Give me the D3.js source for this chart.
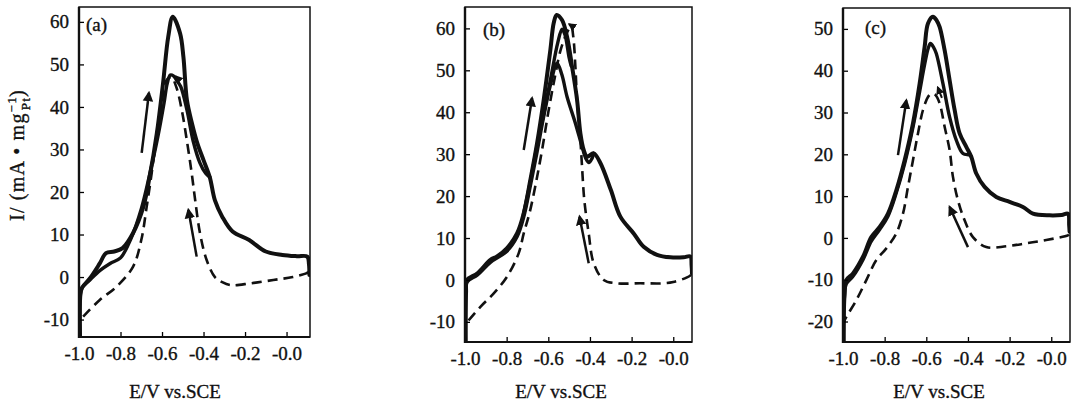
<!DOCTYPE html>
<html>
<head>
<meta charset="utf-8">
<script src="https://cdn.jsdelivr.net/npm/d3@7"></script>
<style>
  body { margin: 0; background: #fff; }
  svg { display: block; }
  text { font-family: "Liberation Serif", "DejaVu Serif", serif; fill: #111; stroke: #111; stroke-width: 0.35px; }
</style>
</head>
<body>
<script>
// potential (V vs. SCE), current density (mA per mg Pt)
const xTicks = [-1.0, -0.8, -0.6, -0.4, -0.2, 0.0];
const xTickLabels = ["-1.0", "-0.8", "-0.6", "-0.4", "-0.2", "-0.0"];
const abYTicks = [-10, 0, 10, 20, 30, 40, 50, 60];
const cYTicks = [-20, -10, 0, 10, 20, 30, 40, 50];

// panel (a)
const aOuter = [[-0.995,-14],[-0.993,-4],[-0.985,-2.5],[-0.947,-0.3],[-0.9,3.2],[-0.87,5.6],[-0.83,6],[-0.79,6.8],[-0.74,10.3],[-0.69,16.5],[-0.66,23.5],[-0.625,33.8],[-0.595,45.6],[-0.57,56.5],[-0.548,61.2],[-0.513,57.3],[-0.497,51.8],[-0.48,41.6],[-0.455,36],[-0.43,31.5],[-0.40,27.5],[-0.37,23.5],[-0.345,18],[-0.31,14.2],[-0.26,10.7],[-0.18,8.7],[-0.1,6],[-0.02,5.2],[0.05,4.9],[0.1,4.8],[0.108,3],[0.11,0.5]];
const aInner = [[-0.995,-14],[-0.993,-4],[-0.985,-2.5],[-0.95,-0.8],[-0.9,1.5],[-0.85,3.2],[-0.8,4.5],[-0.75,9],[-0.7,16],[-0.66,24],[-0.62,33],[-0.59,41],[-0.575,45.5],[-0.56,47.5],[-0.545,47.3],[-0.53,46.3],[-0.51,44.8],[-0.48,39.3],[-0.45,32],[-0.417,26.8],[-0.39,24.4],[-0.37,23.5]];
const aDashed = [[0.105,1.2],[0.097,0.9],[0.03,0],[-0.064,-0.7],[-0.176,-1.5],[-0.27,-1.9],[-0.31,-1.2],[-0.345,0],[-0.385,4],[-0.417,10.3],[-0.44,18],[-0.457,24.4],[-0.48,32],[-0.505,39.3],[-0.53,44.5],[-0.555,47],[-0.577,46.4],[-0.6,41.6],[-0.625,33.8],[-0.65,24.4],[-0.674,16.5],[-0.70,8.7],[-0.74,2.4],[-0.82,-2.3],[-0.9,-5.4],[-0.98,-9.3],[-0.993,-10]];
const aArrows = [[-0.698,29.2,-0.663,43.3],[-0.433,4.8,-0.473,15.8]];
const aDashHeads = [[-0.515,46.2,-0.535,47.2]];

// panel (b)
const bOuter = [[-0.997,-14.7],[-0.995,-3],[-0.99,0],[-0.94,1.6],[-0.878,4.8],[-0.846,5.6],[-0.798,7.6],[-0.75,11.1],[-0.718,15.9],[-0.686,23.9],[-0.654,32.6],[-0.622,43],[-0.59,54.9],[-0.574,61.3],[-0.56,63.2],[-0.534,62],[-0.51,58],[-0.486,50.9],[-0.462,43],[-0.446,35],[-0.43,31],[-0.414,29.4],[-0.382,30.2],[-0.35,27.9],[-0.30,21.5],[-0.254,15.1],[-0.19,11.1],[-0.142,7.9],[-0.078,6],[-0.014,5.4],[0.05,5.4],[0.082,5.6],[0.088,3.5],[0.09,1.5]];
const bMiddle = [[-0.72,15.5],[-0.686,23.5],[-0.656,31.5],[-0.62,40],[-0.585,49],[-0.555,56.5],[-0.534,59.8],[-0.52,58.5],[-0.5,53],[-0.49,51]];
const bInner = [[-0.997,-14.7],[-0.995,-3],[-0.99,-0.5],[-0.94,1.2],[-0.878,4.2],[-0.8,6.8],[-0.75,10.3],[-0.718,15],[-0.686,22.5],[-0.654,30.5],[-0.622,39],[-0.59,46.5],[-0.558,51.7],[-0.535,49],[-0.51,43.7],[-0.47,37.4],[-0.438,31.8],[-0.42,29],[-0.405,28],[-0.39,29],[-0.382,30.2]];
const bDashed = [[0.085,1.2],[0.066,0.6],[0.0,-0.5],[-0.046,-0.8],[-0.158,-0.8],[-0.27,-0.8],[-0.334,0],[-0.382,4],[-0.406,11.1],[-0.427,19],[-0.438,27],[-0.446,33.4],[-0.462,43],[-0.47,50.9],[-0.48,58],[-0.49,60.5],[-0.51,59],[-0.54,55],[-0.57,48],[-0.6,40],[-0.63,31],[-0.66,23],[-0.69,16],[-0.718,11.1],[-0.742,6.4],[-0.798,0.8],[-0.862,-3.2],[-0.926,-6.4],[-0.98,-9.5],[-0.995,-10.5]];
const bArrows = [[-0.718,31,-0.678,43.4],[-0.406,4,-0.45,15.1]];
const bDashHeads = [[-0.475,60.2,-0.5,61]];

// panel (c)
const cOuter = [[-0.997,-24.9],[-0.993,-14],[-0.984,-10.1],[-0.952,-8.5],[-0.904,-4.5],[-0.864,0.2],[-0.824,2.6],[-0.784,5.8],[-0.744,11.4],[-0.704,18.6],[-0.664,27.4],[-0.632,36.9],[-0.608,45.7],[-0.592,51.3],[-0.568,52.9],[-0.55,52],[-0.536,50.5],[-0.512,44.9],[-0.488,37.7],[-0.464,30.6],[-0.44,25],[-0.408,21.8],[-0.384,19.4],[-0.36,15.4],[-0.32,12.2],[-0.264,9.8],[-0.2,8.6],[-0.136,7.4],[-0.088,5.8],[-0.008,5.4],[0.05,5.5],[0.08,5.8],[0.086,3],[0.088,1.5]];
const cInner = [[-0.997,-24.9],[-0.993,-14],[-0.984,-11],[-0.952,-9.2],[-0.904,-5.2],[-0.864,-0.8],[-0.824,2],[-0.784,5.2],[-0.744,10.8],[-0.704,17.8],[-0.664,26.5],[-0.632,35],[-0.608,41.5],[-0.59,45.5],[-0.58,46.5],[-0.565,45.6],[-0.552,44.1],[-0.52,36.9],[-0.488,28.9],[-0.456,23.4],[-0.424,20.2],[-0.392,19.8],[-0.384,19.4]];
const cDashed = [[0.085,0.8],[0.08,0.6],[-0.024,-0.5],[-0.12,-1.3],[-0.216,-2],[-0.312,-2.2],[-0.376,0.2],[-0.416,4.2],[-0.448,9],[-0.472,14.6],[-0.488,21],[-0.512,26.6],[-0.536,32.2],[-0.556,34.2],[-0.576,34.5],[-0.592,33.7],[-0.616,30.6],[-0.64,25],[-0.664,18.6],[-0.688,12.2],[-0.712,5.8],[-0.744,1.1],[-0.792,-2.5],[-0.84,-5.3],[-0.888,-10.1],[-0.936,-14.9],[-0.984,-18.9],[-0.995,-20]];
const cArrows = [[-0.736,19.8,-0.696,32.9],[-0.4,-2.2,-0.488,7.4]];
const cDashHeads = [[-0.525,33.5,-0.545,36]];

const panels = [
  {name: "(a)", solids: [aOuter, aInner], dashed: aDashed, arrows: aArrows, heads: aDashHeads, yTicks: abYTicks,
   xDomain: [-1.0, 0.113], yDomain: [-14.1, 63.5], box: {l: 79, r: 310, t: 7, b: 337}, tag: [86, 31]},
  {name: "(b)", solids: [bOuter, bMiddle, bInner], dashed: bDashed, arrows: bArrows, heads: bDashHeads, yTicks: abYTicks,
   xDomain: [-1.0, 0.09], yDomain: [-14.8, 65.1], box: {l: 465, r: 692, t: 7, b: 342}, tag: [483, 36]},
  {name: "(c)", solids: [cOuter, cInner], dashed: cDashed, arrows: cArrows, heads: cDashHeads, yTicks: cYTicks,
   xDomain: [-1.0, 0.09], yDomain: [-24.9, 55], box: {l: 843, r: 1070, t: 8, b: 342}, tag: [865, 34]}
];

const svg = d3.select("body").append("svg").attr("width", 1076).attr("height", 405);

svg.append("defs").append("marker")
    .attr("id", "head")
    .attr("viewBox", "0 0 10 10")
    .attr("refX", 8).attr("refY", 5)
    .attr("markerWidth", 4.2).attr("markerHeight", 4.6)
    .attr("markerUnits", "strokeWidth")
    .attr("orient", "auto")
  .append("path").attr("d", "M0,0L10,5L0,10z").attr("fill", "#111");

panels.forEach((p, i) => {
    let b = p.box;
    let x = d3.scaleLinear().domain(p.xDomain).range([b.l, b.r]);
    let y = d3.scaleLinear().domain(p.yDomain).range([b.b, b.t]);

    let clipId = `clip${i}`;
    svg.append("clipPath").attr("id", clipId)
      .append("rect").attr("x", b.l).attr("y", b.t).attr("width", b.r - b.l).attr("height", b.b - b.t);

    let line = d3.line()
        .x((d) => x(d[0]))
        .y((d) => y(d[1]))
        .curve(d3.curveCatmullRom.alpha(0.5));

    let g = svg.append("g").attr("clip-path", `url(#${clipId})`);

    g.append("path").attr("d", line(p.dashed))
        .attr("fill", "none").attr("stroke", "#111")
        .attr("stroke-width", 2.6).attr("stroke-dasharray", "10,6");

    p.solids.forEach((s, k) => {
        g.append("path").attr("d", line(s))
            .attr("fill", "none").attr("stroke", "#111")
            .attr("stroke-width", k == 0 ? 4 : 3.4)
            .attr("stroke-linejoin", "round").attr("stroke-linecap", "round");
    });

    svg.selectAll(null).data(p.arrows).enter().append("line")
        .attr("x1", (d) => x(d[0])).attr("y1", (d) => y(d[1]))
        .attr("x2", (d) => x(d[2])).attr("y2", (d) => y(d[3]))
        .attr("stroke", "#111").attr("stroke-width", 2.5)
        .attr("marker-end", "url(#head)");

    svg.selectAll(null).data(p.heads).enter().append("line")
        .attr("x1", (d) => x(d[0])).attr("y1", (d) => y(d[1]))
        .attr("x2", (d) => x(d[2])).attr("y2", (d) => y(d[3]))
        .attr("stroke", "#111").attr("stroke-width", 2)
        .attr("marker-end", "url(#head)");

    // axes with inward ticks
    svg.append("g").attr("transform", `translate(0,${b.b})`)
        .call(d3.axisBottom(x).tickValues(xTicks).tickSize(-5).tickPadding(10)
            .tickFormat((d, j) => xTickLabels[j]))
        .call((a) => a.select(".domain").remove())
        .call((a) => a.selectAll("text").attr("font-size", 19).attr("font-family", null))
        .call((a) => a.selectAll("line").attr("stroke-width", 1.3));

    svg.append("g").attr("transform", `translate(${b.l},0)`)
        .call(d3.axisLeft(y).tickValues(p.yTicks).tickSize(-5).tickPadding(10)
            .tickFormat((d) => String(d)))
        .call((a) => a.select(".domain").remove())
        .call((a) => a.selectAll("text").attr("font-size", 19).attr("font-family", null))
        .call((a) => a.selectAll("line").attr("stroke-width", 1.3));

    // frame
    svg.append("rect")
        .attr("x", b.l).attr("y", b.t).attr("width", b.r - b.l).attr("height", b.b - b.t)
        .attr("fill", "none").attr("stroke", "#111").attr("stroke-width", 1.5);
    svg.append("line").attr("x1", b.l).attr("x2", b.l).attr("y1", b.t).attr("y2", b.b + 1)
        .attr("stroke", "#111").attr("stroke-width", 2.4);
    svg.append("line").attr("x1", b.l).attr("x2", b.r).attr("y1", b.b).attr("y2", b.b)
        .attr("stroke", "#111").attr("stroke-width", 2.2);

    svg.append("text").attr("x", p.tag[0]).attr("y", p.tag[1])
        .attr("font-size", 19).text(p.name);

    svg.append("text").attr("x", b.l + 96).attr("y", 398)
        .attr("text-anchor", "middle").attr("font-size", 19).text("E/V vs.SCE");
});

// y axis title (panel a only)
let yTitle = svg.append("text")
    .attr("transform", "translate(24,155) rotate(-90)")
    .attr("text-anchor", "middle").attr("font-size", 20).attr("letter-spacing", 1.2);
yTitle.append("tspan").text("I/ (mA • mg");
yTitle.append("tspan").attr("font-size", 13).attr("dy", -8).text("−1");
yTitle.append("tspan").attr("font-size", 13).attr("dx", -14).attr("dy", 14).text("Pt");
yTitle.append("tspan").attr("dy", -6).text(")");
</script>
</body>
</html>
